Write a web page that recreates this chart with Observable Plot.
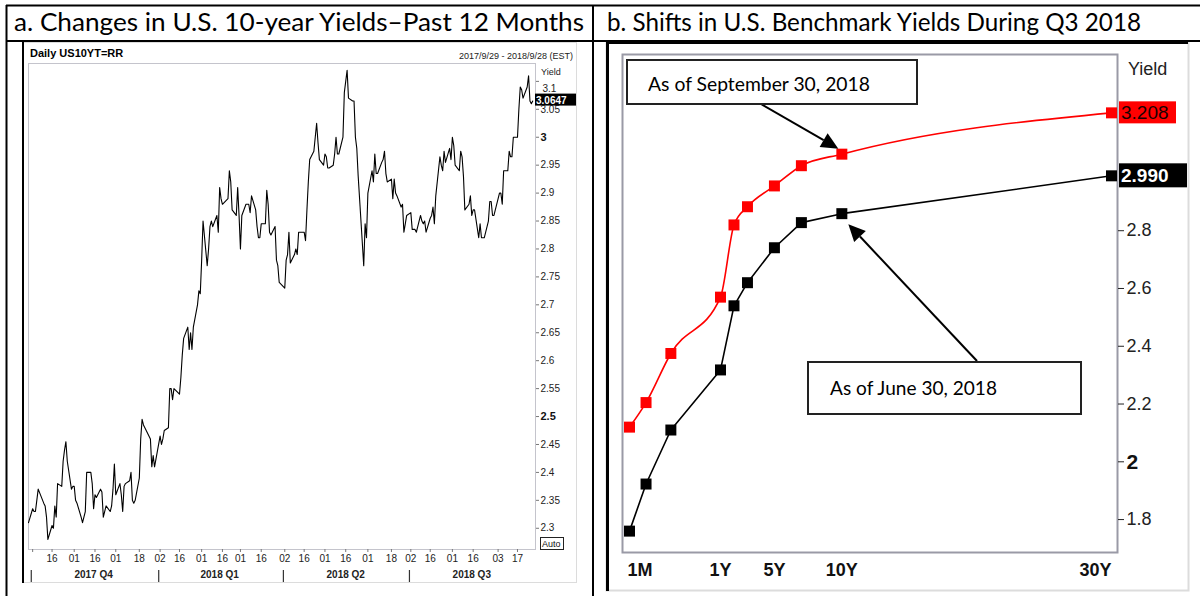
<!DOCTYPE html>
<html><head><meta charset="utf-8">
<script src="https://cdn.jsdelivr.net/npm/d3@7"></script>
<script src="https://cdn.jsdelivr.net/npm/@observablehq/plot@0.6"></script>
<style>
html,body{margin:0;padding:0;background:#fff;}
#root{position:relative;width:1200px;height:596px;overflow:hidden;font-family:"Liberation Sans",Arial,sans-serif;}
</style></head><body><div id="root"></div>
<script>
// ---------- Panel a: daily US 10-year yield ----------
const months10y = ["2017-09","2017-10","2017-11","2017-12","2018-01","2018-02","2018-03","2018-04","2018-05","2018-06","2018-07","2018-08","2018-09"];
const days10y = [
  [29],
  [2,3,4,5,6,10,11,12,13,16,17,18,19,20,23,24,25,26,27,30,31],
  [1,2,3,6,7,8,9,10,13,14,15,16,17,20,21,22,24,27,28,29,30],
  [1,4,5,6,7,8,11,12,13,14,15,18,19,20,21,22,26,27,28,29],
  [2,3,4,5,8,9,10,11,12,16,17,18,19,22,23,24,25,26,29,30,31],
  [1,2,5,6,7,8,9,12,13,14,15,16,20,21,22,23,26,27,28],
  [1,2,5,6,7,8,9,12,13,14,15,16,19,20,21,22,23,26,27,28,29],
  [2,3,4,5,6,9,10,11,12,13,16,17,18,19,20,23,24,25,26,27,30],
  [1,2,3,4,7,8,9,10,11,14,15,16,17,18,21,22,23,24,25,29,30,31],
  [1,4,5,6,7,8,11,12,13,14,15,18,19,20,21,22,25,26,27,28,29],
  [2,3,5,6,9,10,11,12,13,16,17,18,19,20,23,24,25,26,27,30,31],
  [1,2,3,6,7,8,9,10,13,14,15,16,17,20,21,22,23,24,27,28,29,30,31],
  [4,5,6,7,10,11,12,13,14,17,18,19,20,21,24,25,26,27,28]
];
const yields10y = [
  [2.31],
  [2.335,2.33,2.33,2.35,2.37,2.345,2.34,2.32,2.28,2.305,2.30,2.34,2.32,2.38,2.375,2.42,2.44,2.455,2.42,2.37,2.375],
  [2.375,2.35,2.345,2.32,2.31,2.32,2.33,2.40,2.40,2.38,2.335,2.36,2.355,2.37,2.365,2.32,2.34,2.33,2.34,2.37,2.415],
  [2.36,2.38,2.36,2.33,2.375,2.38,2.385,2.40,2.35,2.345,2.35,2.39,2.46,2.495,2.485,2.48,2.46,2.41,2.43,2.41],
  [2.465,2.45,2.46,2.475,2.48,2.55,2.55,2.53,2.55,2.54,2.57,2.61,2.64,2.66,2.62,2.65,2.62,2.66,2.70,2.725,2.72],
  [2.78,2.85,2.77,2.80,2.84,2.85,2.84,2.86,2.83,2.91,2.89,2.88,2.89,2.94,2.92,2.87,2.86,2.91,2.86],
  [2.80,2.86,2.88,2.88,2.88,2.865,2.895,2.87,2.84,2.82,2.82,2.845,2.845,2.905,2.88,2.83,2.825,2.84,2.78,2.77,2.74],
  [2.73,2.78,2.79,2.83,2.775,2.79,2.80,2.79,2.83,2.83,2.83,2.815,2.87,2.92,2.96,2.975,3.00,3.025,2.99,2.96,2.95],
  [2.97,2.965,2.945,2.945,2.95,2.97,3.00,2.97,2.97,3.00,3.08,3.10,3.12,3.07,3.065,3.065,3.00,2.98,2.93,2.77,2.845,2.82],
  [2.90,2.94,2.92,2.97,2.935,2.935,2.955,2.96,2.975,2.935,2.92,2.925,2.89,2.925,2.90,2.895,2.875,2.88,2.83,2.845,2.86],
  [2.865,2.835,2.835,2.83,2.86,2.85,2.845,2.85,2.83,2.855,2.86,2.875,2.845,2.895,2.965,2.95,2.94,2.975,2.955,2.98,2.96],
  [3.00,2.985,2.95,2.94,2.975,2.965,2.93,2.87,2.88,2.895,2.86,2.87,2.87,2.82,2.845,2.82,2.82,2.82,2.85,2.885,2.885,2.86,2.86],
  [2.90,2.90,2.88,2.94,2.94,2.975,2.965,2.965,3.00,3.00,3.05,3.09,3.085,3.07,3.09,3.11,3.065,3.06,3.0647]
];
const lastYield10y = 3.0647;
const xTickDates = ["2017-10-02","2017-10-16","2017-11-01","2017-11-16","2017-12-01","2017-12-18","2018-01-02","2018-01-16","2018-02-01","2018-02-16","2018-03-01","2018-03-16","2018-04-02","2018-04-16","2018-05-01","2018-05-16","2018-06-01","2018-06-18","2018-07-02","2018-07-16","2018-08-01","2018-08-16","2018-09-03","2018-09-17"];
const xTickLabels = ["","16","01","16","01","18","02","16","01","16","01","16","02","16","01","16","01","18","02","16","01","16","03","17"];
const quarterNames = ["2017 Q4","2018 Q1","2018 Q2","2018 Q3"];
const quarterStarts = ["2017-10-01","2018-01-01","2018-04-01","2018-07-01"];
const quarterMids = ["2017-11-15","2018-02-14","2018-05-16","2018-08-15"];
const yTicksA = [2.3,2.35,2.4,2.45,2.55,2.6,2.65,2.7,2.75,2.8,2.85,2.9,2.95,3.05];
const yTicksABold = [2.5,3];
const yTickATop = [3.1];

// ---------- Panel b: benchmark yield curves ----------
const tenors = ["1M","3M","6M","1Y","2Y","3Y","5Y","7Y","10Y","30Y"];
const tenorMonths = [1,3,6,12,24,36,60,84,120,360];
const yieldsSep30 = [2.12,2.205,2.375,2.57,2.82,2.883,2.955,3.025,3.065,3.208];
const yieldsJun30 = [1.76,1.923,2.11,2.318,2.54,2.62,2.741,2.828,2.859,2.990];
const axisTenors = ["1M","1Y","5Y","10Y","30Y"];
const yTicksB = [1.8,2.2,2.4,2.6,2.8];
const yTicksBBold = [2];

// ---------- build ----------
const parse = d3.utcParse("%Y-%m-%d");
const series10y = [];
months10y.forEach((m,i) => days10y[i].forEach((d,j) => series10y.push({date: parse(`${m}-${String(d).padStart(2,"0")}`), y: yields10y[i][j]})));
const tickLabelByTime = new Map(xTickDates.map((d,i)=>[+parse(d), xTickLabels[i]]));
const quarters = quarterNames.map((q,i)=>({name:q, mid: parse(quarterMids[i]), start: parse(quarterStarts[i])}));

const FONT = "'Liberation Sans', Arial, sans-serif";
const leftPlot = Plot.plot({
  width: 554, height: 540, marginLeft: 6, marginRight: 41, marginTop: 20, marginBottom: 34,
  style: {fontFamily: FONT, background: "transparent", color: "#222", overflow: "visible"},
  x: {type: "utc", domain: [parse("2017-09-29"), parse("2018-09-30")], label: null},
  y: {domain: [2.262, 3.132], label: null},
  marks: [
    Plot.frame({stroke: "#c4c4cc"}),
    Plot.axisX(xTickDates.map(parse), {tickSize: 3, tickPadding: 2, fontSize: 10, stroke: "#777", fill: "#222", tickFormat: d => tickLabelByTime.get(+d)}),
    Plot.axisY(yTicksA, {anchor: "right", tickSize: 3, tickPadding: 2, fontSize: 10, stroke: "#777", fill: "#222", tickFormat: d => `${d}`}),
    Plot.axisY(yTicksABold, {anchor: "right", tickSize: 3, tickPadding: 2, fontSize: 11, fontWeight: "bold", stroke: "#777", fill: "#111", tickFormat: d => `${d}`}),
    Plot.axisY(yTickATop, {anchor: "right", tickSize: 3, stroke: "#777", text: null}),
    Plot.text(yTickATop, {y: d => d, text: d => `${d}`, frameAnchor: "right", dx: 7, dy: 7, textAnchor: "start", fontSize: 10, fill: "#222"}),
    Plot.text(quarters, {x: "mid", text: "name", frameAnchor: "bottom", dy: 28, fontSize: 10, fontWeight: "bold", fill: "#222"}),
    Plot.ruleX(quarters, {x: "start", insetTop: 507, insetBottom: -34, stroke: "#333", strokeWidth: 1.2}),
    Plot.line(series10y, {x: "date", y: "y", stroke: "#000", strokeWidth: 1.1})
  ]
});

const sepData = tenors.map((t,i)=>({t, m: tenorMonths[i], v: yieldsSep30[i]}));
const junData = tenors.map((t,i)=>({t, m: tenorMonths[i], v: yieldsJun30[i]}));
const axisData = axisTenors.map(t => ({t, m: tenorMonths[tenors.indexOf(t)]}));

const rightPlot = Plot.plot({
  width: 580, height: 547, marginLeft: 14, marginRight: 71, marginTop: 10, marginBottom: 39,
  style: {fontFamily: FONT, background: "transparent", color: "#222", overflow: "visible"},
  x: {type: "linear", domain: [1, 12, 360], range: [21, 112, 503], label: null, axis: null},
  y: {domain: [1.686, 3.41], label: null},
  marks: [
    Plot.frame({stroke: "#9a9aa6", strokeWidth: 2}),
    Plot.axisY(yTicksB, {anchor: "right", tickSize: 6, tickPadding: 3, fontSize: 18, stroke: "#222", fill: "#222", tickFormat: d => `${d}`}),
    Plot.axisY(yTicksBBold, {anchor: "right", tickSize: 6, tickPadding: 3, fontSize: 21, fontWeight: "bold", stroke: "#222", fill: "#111", tickFormat: d => `${d}`}),
    Plot.line(junData, {x: "m", y: "v", stroke: "#000", strokeWidth: 1.6}),
    Plot.line(sepData, {x: "m", y: "v", stroke: "#ff0000", strokeWidth: 1.6, curve: "monotone-x"}),
    Plot.dot(junData, {x: "m", y: "v", symbol: "square", fill: "#000", r: 6.2}),
    Plot.dot(sepData, {x: "m", y: "v", symbol: "square", fill: "#ff0000", r: 6.2}),
    Plot.text(axisData.slice(0,1), {x: "m", text: "t", frameAnchor: "bottom", dy: 23, textAnchor: "start", dx: -2, fontSize: 18, fontWeight: "bold", fill: "#111"}),
    Plot.text(axisData.slice(1,4), {x: "m", text: "t", frameAnchor: "bottom", dy: 23, fontSize: 18, fontWeight: "bold", fill: "#111"}),
    Plot.text(axisData.slice(4), {x: "m", text: "t", frameAnchor: "bottom", dy: 23, textAnchor: "end", fontSize: 18, fontWeight: "bold", fill: "#111"})
  ]
});

const root = document.getElementById("root");
const LX = 22, LY = 43, RX = 608, RY = 44;
leftPlot.style.position = "absolute"; leftPlot.style.left = LX + "px"; leftPlot.style.top = LY + "px";
rightPlot.style.position = "absolute"; rightPlot.style.left = RX + "px"; rightPlot.style.top = RY + "px";
root.append(leftPlot, rightPlot);

// ---------- overlay: table, titles, tags, annotations ----------
const svg = d3.select(root).append("svg").attr("width", 1200).attr("height", 596)
  .style("position", "absolute").style("left", 0).style("top", 0).style("overflow", "visible");
const TFONT = "Lato, 'Open Sans', sans-serif";

// image borders
svg.append("rect").attr("x", 22.5).attr("y", 42.5).attr("width", 554).attr("height", 540).attr("fill", "none").attr("stroke", "#dcdcdc");
svg.append("rect").attr("x", 606.5).attr("y", 42.5).attr("width", 582).attr("height", 548).attr("fill", "none").attr("stroke", "#dcdcdc").attr("stroke-width", 2);
svg.append("line").attr("x1", 23).attr("x2", 23).attr("y1", 42).attr("y2", 583).attr("stroke", "#000").attr("stroke-width", 2);
svg.append("line").attr("x1", 607.5).attr("x2", 607.5).attr("y1", 42).attr("y2", 591).attr("stroke", "#000").attr("stroke-width", 3);
svg.append("line").attr("x1", 606).attr("x2", 1188).attr("y1", 43).attr("y2", 43).attr("stroke", "#000").attr("stroke-width", 2);
// table lines
const tbl = [[6,5.5,1200,5.5],[6,41,1200,41],[6.5,5,6.5,596],[593,5,593,596]];
tbl.forEach(([x1,y1,x2,y2]) => svg.append("line").attr("x1",x1).attr("y1",y1).attr("x2",x2).attr("y2",y2).attr("stroke","#000").attr("stroke-width",2));
// titles
svg.append("text").attr("x", 14).attr("y", 31).attr("font-family", TFONT).attr("font-size", 25)
  .attr("textLength", 570).attr("lengthAdjust", "spacingAndGlyphs").attr("fill", "#000")
  .text("a. Changes in U.S. 10-year Yields–Past 12 Months");
svg.append("text").attr("x", 607).attr("y", 31).attr("font-family", TFONT).attr("font-size", 25)
  .attr("textLength", 534).attr("lengthAdjust", "spacingAndGlyphs").attr("fill", "#000")
  .text("b. Shifts in U.S. Benchmark Yields During Q3 2018");

// panel a header texts
svg.append("text").attr("x", 30).attr("y", 57).attr("font-family", FONT).attr("font-size", 11).attr("font-weight", "bold").text("Daily US10YT=RR");
svg.append("text").attr("x", 573).attr("y", 59).attr("text-anchor", "end").attr("font-family", FONT).attr("font-size", 9).attr("fill", "#222").text("2017/9/29 - 2018/9/28 (EST)");
svg.append("text").attr("x", 541).attr("y", 75).attr("font-family", FONT).attr("font-size", 9).attr("fill", "#222").text("Yield");
svg.append("rect").attr("x", 540.5).attr("y", 537.5).attr("width", 23).attr("height", 12).attr("fill", "#fff").attr("stroke", "#222");
svg.append("text").attr("x", 542).attr("y", 547).attr("font-family", FONT).attr("font-size", 9).attr("fill", "#111").text("Auto");
const tagY = LY + leftPlot.scale("y").apply(lastYield10y);
svg.append("rect").attr("x", 535).attr("y", tagY - 7).attr("width", 41).attr("height", 12).attr("fill", "#000");
svg.append("text").attr("x", 536).attr("y", tagY + 3).attr("font-family", FONT).attr("font-size", 10).attr("font-weight", "bold").attr("fill", "#fff").text(lastYield10y.toFixed(4));

// panel b texts and tags
const bx = m => RX + rightPlot.scale("x").apply(m);
const by = v => RY + rightPlot.scale("y").apply(v);
svg.append("text").attr("x", 1128).attr("y", 75).attr("font-family", FONT).attr("font-size", 18).attr("fill", "#222").text("Yield");
const redY = by(yieldsSep30[9]), blackY = by(yieldsJun30[9]);
svg.append("rect").attr("x", 1119).attr("y", redY - 11).attr("width", 57).attr("height", 22).attr("fill", "#ff0000");
svg.append("text").attr("x", 1121).attr("y", redY + 7).attr("font-family", FONT).attr("font-size", 19).attr("fill", "#1a0000").text(yieldsSep30[9].toFixed(3));
svg.append("rect").attr("x", 1119).attr("y", blackY - 12).attr("width", 68).attr("height", 24).attr("fill", "#000");
svg.append("text").attr("x", 1121).attr("y", blackY + 7).attr("font-family", FONT).attr("font-size", 19).attr("font-weight", "bold").attr("fill", "#fff").text(yieldsJun30[9].toFixed(3));

// annotation arrows
function arrow(x1, y1, x2, y2) {
  const dx = x2 - x1, dy = y2 - y1, L = Math.hypot(dx, dy), ux = dx / L, uy = dy / L;
  const hl = 17, hw = 8, bxp = x2 - ux * hl, byp = y2 - uy * hl;
  svg.append("line").attr("x1", x1).attr("y1", y1).attr("x2", bxp).attr("y2", byp).attr("stroke", "#000").attr("stroke-width", 2);
  svg.append("path").attr("d", `M${x2},${y2}L${bxp - uy * hw},${byp + ux * hw}L${bxp + uy * hw},${byp - ux * hw}Z`).attr("fill", "#000");
}
const i10 = tenors.indexOf("10Y");
arrow(761, 104, bx(tenorMonths[i10]) - 3, by(yieldsSep30[i10]) - 5);
arrow(977, 361, bx(tenorMonths[i10]) + 7, by(yieldsJun30[i10]) + 11);

// annotation boxes
function box(x, y, w, h, tx, ty, tl, label) {
  svg.append("rect").attr("x", x).attr("y", y).attr("width", w).attr("height", h).attr("fill", "#fff").attr("stroke", "#222").attr("stroke-width", 2);
  svg.append("text").attr("x", tx).attr("y", ty).attr("font-family", TFONT).attr("font-size", 19)
    .attr("textLength", tl).attr("lengthAdjust", "spacingAndGlyphs").attr("fill", "#000").text(label);
}
box(627, 60, 290, 44, 648, 91, 222, "As of September 30, 2018");
box(808, 362, 273, 52, 830, 395, 167, "As of June 30, 2018");
</script></body></html>
